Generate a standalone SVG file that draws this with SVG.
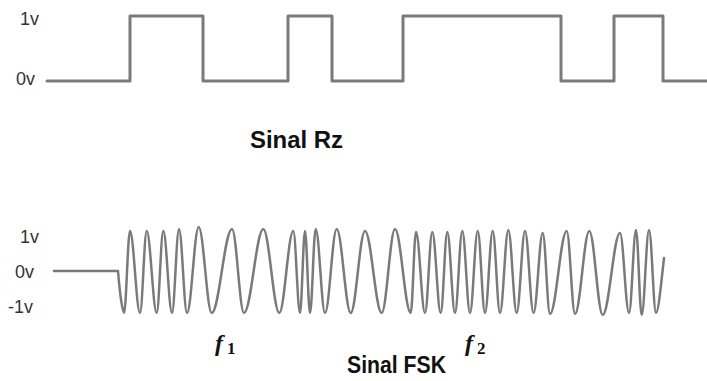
<svg xmlns="http://www.w3.org/2000/svg" width="707" height="381" viewBox="0 0 707 381">
<style>
.wave{fill:none;stroke:#7a7a7a;stroke-linejoin:round;stroke-linecap:round}
.lbl{font-family:"Liberation Sans","DejaVu Sans",sans-serif;font-size:18px;fill:#333}
.title{font-family:"Liberation Sans","DejaVu Sans",sans-serif;font-size:23px;font-weight:bold;fill:#111}
.f{font-family:"Liberation Serif","DejaVu Serif",serif;font-weight:bold;fill:#111}
</style>
<rect width="707" height="381" fill="#fff"/>
<g id="rz-signal">
<path class="wave" stroke-width="3" d="M47,81 H130 V16 H203 V81 H288 V16 H332 V81 H403 V16 H561 V81 H614 V16 H663 V81 H707"/>
<text class="lbl" x="20" y="25">1v</text>
<text class="lbl" x="16" y="85">0v</text>
<text class="title" x="250" y="148" textLength="93" lengthAdjust="spacingAndGlyphs">Sinal Rz</text>
</g>
<g id="fsk-signal">
<path class="wave" stroke-width="2.5" d="M54,271 H118 C120,295 122.5,313 124,313
C126.2,313 127.8,231 130,231 C133.6,231 136.4,313 140,313 C142.4,313 144.3,231 146.7,231 C150.3,231 153.1,313 156.7,313
C159.1,313 160.9,231 163.3,231 C166.5,231 168.8,313 172,313 C174.5,313 176.5,229 179,229 C181.9,229 184.1,313 187,313
C191.3,313 194.4,227 198.7,227 C203.4,227 207,313 211.7,313 C219.1,313 224.6,229 232,229 C236.4,229 239.6,313 244,313
C251,313 256.3,229 263.3,229 C269.1,229 273.5,313 279.3,313 C284.4,313 288.2,231 293.3,231 C295.7,231 297.6,313 300,313
C301.8,313 303.2,231 305,231 C306.8,231 308.2,313 310,313 C312.1,313 313.6,229 315.7,229 C319.1,229 321.6,313 325,313
C329.3,313 332.4,229 336.7,229 C341.8,229 345.6,313 350.7,313 C355.9,313 359.8,231 365,231 C371.1,231 375.6,313 381.7,313
C386.5,313 390.2,229 395,229 C400.7,229 405,313 410.7,313 C412.6,313 414.1,232 416,232 C419.3,232 421.7,313 425,313
C427.7,313 429.6,232 432.3,232 C435.4,232 437.6,313 440.7,313 C443.1,313 444.9,232 447.3,232 C450.1,232 452.2,313 455,313
C457.7,313 459.6,231 462.3,231 C465.1,231 467.2,313 470,313 C472.8,313 474.9,231 477.7,231 C480.4,231 482.3,313 485,313
C487.8,313 489.9,231 492.7,231 C495.4,231 497.3,313 500,313 C503,313 505.3,230 508.3,230 C511.4,230 513.6,313 516.7,313
C519.7,313 522,231 525,231 C528.1,231 530.4,313 533.5,313 C536.9,313 539.4,233 542.7,233 C545.4,233 547.3,314 550,314
C556.1,314 560.6,231 566.7,231 C569.7,231 572,314 575,314 C580.2,314 584.1,231 589.3,231 C594.2,231 597.8,315 602.7,315
C609,315 613.7,233 620,233 C623.3,233 625.7,313 629,313 C631.6,313 633.5,230 636,230 C638.1,230 639.6,315 641.7,315
C644.4,315 646.3,230 649,230 C651.6,230 653.5,313 656,313 C658.5,313 661.5,280 664,258"/>
<text class="lbl" x="20" y="243">1v</text>
<text class="lbl" x="15" y="278">0v</text>
<text class="lbl" x="8" y="313">-1v</text>
<text class="f" x="215" y="351"><tspan font-style="italic" font-size="24">f</tspan><tspan font-size="17" dy="3" dx="4">1</tspan></text>
<text class="f" x="465" y="351"><tspan font-style="italic" font-size="24">f</tspan><tspan font-size="17" dy="3" dx="4">2</tspan></text>
<text class="title" x="347" y="373" textLength="99" lengthAdjust="spacingAndGlyphs">Sinal FSK</text>
</g>
</svg>
